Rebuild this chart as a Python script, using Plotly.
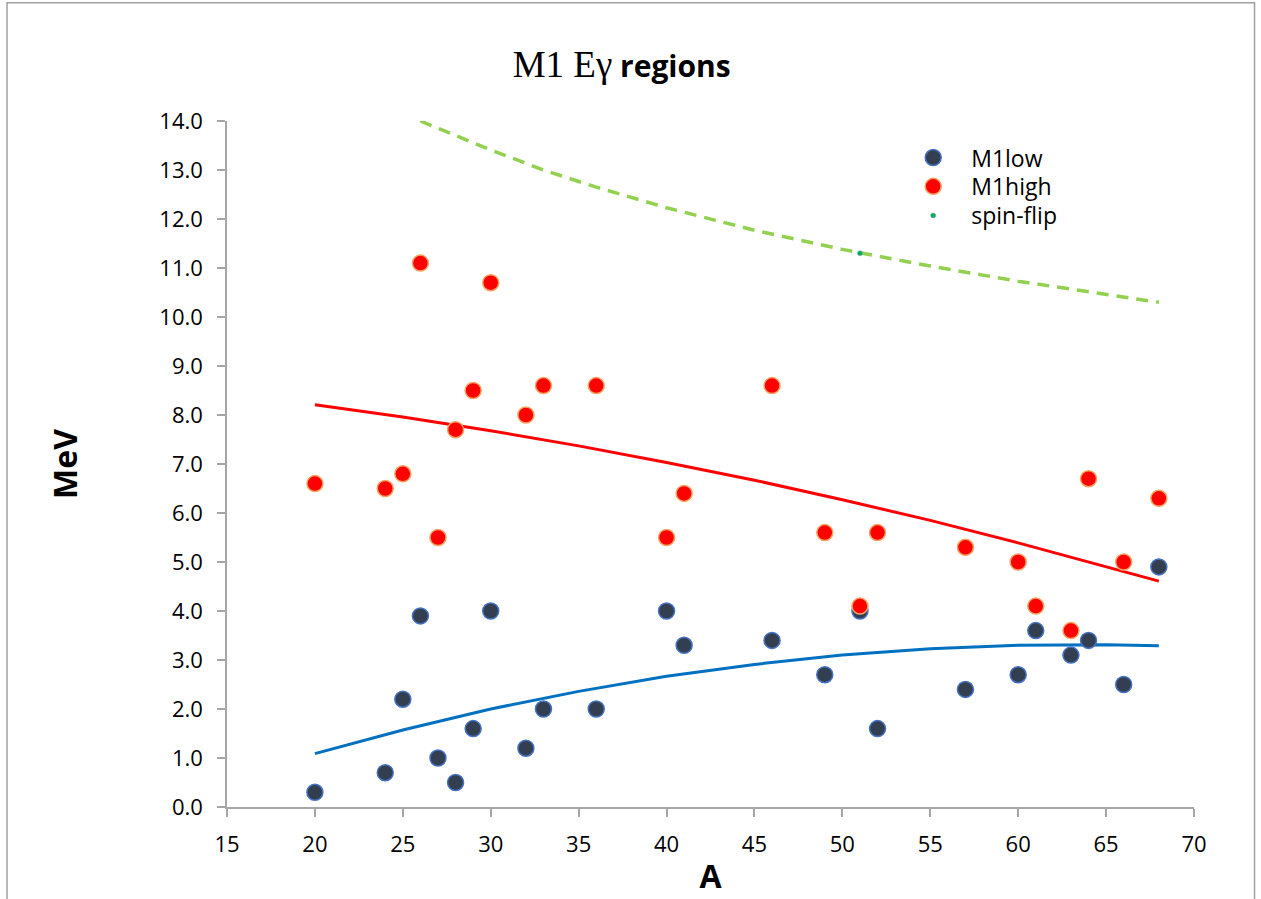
import plotly.graph_objects as go

# ---- data ----
A_vals = [20, 24, 25, 26, 27, 28, 29, 30, 32, 33, 36, 40, 41, 46, 49, 51, 52, 57, 60, 61, 63, 64, 66, 68]
m1low = [0.3, 0.7, 2.2, 3.9, 1.0, 0.5, 1.6, 4.0, 1.2, 2.0, 2.0, 4.0, 3.3, 3.4, 2.7, 4.0, 1.6, 2.4, 2.7, 3.6, 3.1, 3.4, 2.5, 4.9]
m1high = [6.6, 6.5, 6.8, 11.1, 5.5, 7.7, 8.5, 10.7, 8.0, 8.6, 8.6, 5.5, 6.4, 8.6, 5.6, 4.1, 5.6, 5.3, 5.0, 4.1, 3.6, 6.7, 5.0, 6.3]

spin_A = [51]
spin_vals = [11.3]

trend_A = [20, 25, 30, 35, 40, 45, 50, 55, 60, 65, 68]
high_trend = [8.21, 7.96, 7.68, 7.37, 7.03, 6.67, 6.27, 5.85, 5.39, 4.91, 4.61]
low_trend = [1.09, 1.57, 2.00, 2.36, 2.67, 2.91, 3.10, 3.23, 3.30, 3.31, 3.29]

spin_trend_A = [26, 28, 30, 33, 36, 40, 45, 50, 55, 60, 64, 68]
spin_trend = [14.0, 13.71, 13.41, 13.00, 12.65, 12.23, 11.77, 11.38, 11.04, 10.73, 10.51, 10.30]

x_ticks = [15, 20, 25, 30, 35, 40, 45, 50, 55, 60, 65, 70]
y_ticks = [0, 1, 2, 3, 4, 5, 6, 7, 8, 9, 10, 11, 12, 13, 14]

AXIS_GRAY = "#A6A6A6"

fig = go.Figure()

fig.add_trace(go.Scatter(x=trend_A, y=high_trend, mode="lines",
                         line=dict(color="#FF0000", width=3), showlegend=False, hoverinfo="skip"))
fig.add_trace(go.Scatter(x=trend_A, y=low_trend, mode="lines",
                         line=dict(color="#0070C0", width=3), showlegend=False, hoverinfo="skip"))
fig.add_trace(go.Scatter(x=spin_trend_A, y=spin_trend, mode="lines",
                         line=dict(color="#92D050", width=3.5, dash="12px,8px"),
                         showlegend=False, hoverinfo="skip"))

fig.add_trace(go.Scatter(x=A_vals, y=m1low, mode="markers", name="M1low", legend="legend",
                         marker=dict(size=16, color="#333F50", line=dict(color="#4472C4", width=1.5))))
fig.add_trace(go.Scatter(x=A_vals, y=m1high, mode="markers", name="M1high", legend="legend2",
                         marker=dict(size=16, color="#FF0000", line=dict(color="#F4A460", width=1.5))))
fig.add_trace(go.Scatter(x=spin_A, y=spin_vals, mode="markers", name="spin-flip", legend="legend3",
                         marker=dict(size=5, color="#00B050", line=dict(color="#7F9FBF", width=0.5))))

def leg(ypaper):
    return dict(
        x=0.691, y=ypaper, xanchor="left", yanchor="top",
        font=dict(family="Open Sans", size=23, color="black"),
        itemwidth=66, itemsizing="trace", bgcolor="rgba(0,0,0,0)",
    )

fig.update_layout(
    width=1261, height=899,
    margin=dict(l=227, r=67, t=121, b=92),
    paper_bgcolor="white", plot_bgcolor="white",
    font=dict(family="Open Sans", color="black"),
    title=dict(
        text="<span style='font-family:Liberation Serif;font-size:37px'>M1 E\u03b3</span> <b>regions</b>",
        font=dict(family="Open Sans", size=30, color="black"),
        x=0.493, xref="container", xanchor="center",
        y=0.926, yref="container", yanchor="middle",
    ),
    xaxis=dict(
        range=[15, 70], tickvals=x_ticks, ticktext=[str(v) for v in x_ticks],
        showline=True, linecolor=AXIS_GRAY, linewidth=1.5,
        ticks="outside", ticklen=8, tickcolor=AXIS_GRAY, tickwidth=1.5,
        showgrid=False, zeroline=False, automargin=False,
        tickfont=dict(family="Open Sans", size=22, color="black"),
        ticklabelstandoff=9,
        title=dict(text="<b>A</b>", font=dict(family="Open Sans", size=32, color="black"), standoff=8),
    ),
    yaxis=dict(
        range=[0, 14], tickvals=y_ticks, ticktext=[f"{v:.1f}" for v in y_ticks],
        showline=True, linecolor=AXIS_GRAY, linewidth=1.5,
        ticks="outside", ticklen=8, tickcolor=AXIS_GRAY, tickwidth=1.5,
        showgrid=False, zeroline=False, automargin=False,
        tickfont=dict(family="Open Sans", size=22, color="black"),
        ticklabelstandoff=10,
        title=dict(text="<b>MeV</b>", font=dict(family="Open Sans", size=32, color="black"), standoff=72),
    ),
    legend=leg(0.978),
    legend2=leg(0.936),
    legend3=leg(0.8935),
    shapes=[dict(type="path", xref="paper", yref="paper",
                 path="M -0.2275,-0.2 L -0.2275,1.1725 L 1.0626,1.1725 L 1.0626,-0.2",
                 line=dict(color="#A0A0A0", width=1.5))],
)

fig.write_html("out.html")
